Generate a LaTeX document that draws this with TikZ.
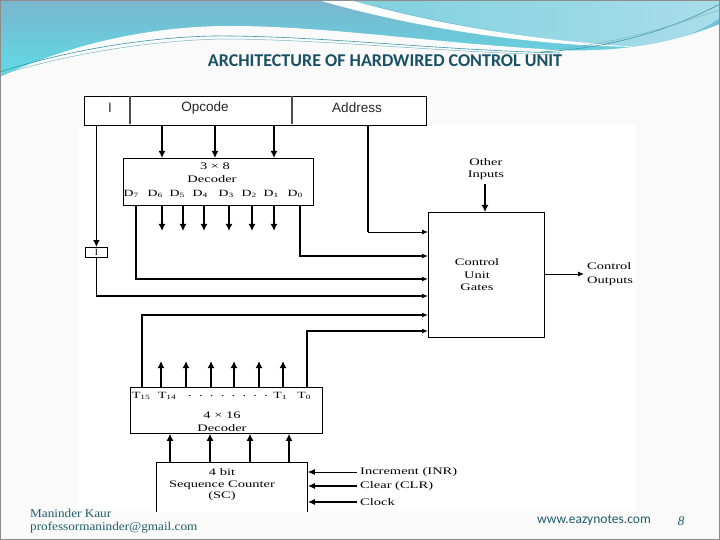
\documentclass[tikz,border=0pt]{standalone}
\usepackage{fontspec}
\setmainfont{Liberation Serif}
\newfontfamily\dgfont[FakeStretch=1.45]{Liberation Serif}
\newfontfamily\ftnfont[FakeStretch=1.1]{Liberation Serif}
\newfontfamily\regfont{Liberation Sans}
\newfontfamily\ttlfont{Carlito}
\newfontfamily\ftfont{Liberation Serif}
\usetikzlibrary{arrows.meta,calc}
\definecolor{slidebg}{RGB}{250,250,250}
\definecolor{hdrtop}{RGB}{122,182,205}
\definecolor{hdrbot}{RGB}{92,222,232}
\definecolor{hdrlightL}{RGB}{128,208,222}
\definecolor{hdrlightR}{RGB}{170,221,234}
\definecolor{titlecol}{RGB}{24,80,100}
\definecolor{footcol}{RGB}{30,92,108}
\definecolor{wavecol}{RGB}{60,150,170}
\newcommand{\sbs}[1]{\raisebox{-0.25ex}{\fontsize{6.5}{7}\selectfont #1}}
\tikzset{
  box/.style={draw, line width=0.8pt, inner sep=0pt, anchor=north west, fill=white},
  dglbl/.style={font=\dgfont\fontsize{10}{12}\selectfont, inner sep=0pt, align=center},
  reglbl/.style={font=\regfont\fontsize{13.5}{15}\selectfont, inner sep=0pt, text=black!85},
  bigarr/.style={-{Latex[length=7pt,width=7pt]}, line width=2.2pt},
  inarr/.style={-{Latex[length=6pt,width=5pt]}, line width=1.5pt},
  thinarr/.style={-{Latex[length=6pt,width=5pt]}, line width=0.9pt},
  wire/.style={line width=1.2pt},
  divider/.style={line width=2.8pt, black!70},
  foot/.style={anchor=west, inner sep=0pt, text=footcol},
}
\begin{document}
\begin{tikzpicture}[x=1pt,y=-1pt]
\useasboundingbox (0,0) rectangle (720,540);
% slide background
\fill[slidebg] (0,0) rectangle (720,540);
% header waves
\shade[top color=hdrtop, bottom color=hdrbot] (0,0) rectangle (720,82);
\shade[left color=hdrlightL, right color=hdrlightR]
  (350,0) .. controls (430,20) and (540,44) .. (640,46)
  .. controls (680,42) and (705,28) .. (720,18) -- (720,0) -- cycle;
\fill[white]
  (318,0) .. controls (400,24) and (520,46) .. (640,47)
  .. controls (520,40) and (420,20) .. (350,0) -- cycle;
\fill[slidebg] (0,92) -- (0,77) .. controls (70,44) and (150,26) .. (230,26)
  .. controls (330,26) and (440,44) .. (560,50)
  .. controls (640,53) and (690,36) .. (720,24) -- (720,92) -- cycle;
\draw[wavecol, line width=0.6pt] (0,72) .. controls (80,46) and (170,35) .. (230,36)
  .. controls (330,37) and (440,50) .. (560,53);
\draw[wavecol!70, line width=0.5pt] (0,75) .. controls (80,50) and (170,39) .. (230,39)
  .. controls (330,40) and (440,52) .. (560,55);
\draw[wavecol, line width=0.6pt] (540,52) .. controls (620,48) and (680,25) .. (720,4);
\draw[wavecol!70, line width=0.5pt] (545,50) .. controls (625,44) and (680,22) .. (720,10);
\draw[black!60, line width=1.2pt] (0,0.6) -- (720,0.6);
% title
\node[font=\ttlfont\bfseries\fontsize{18}{21}\selectfont, text=titlecol] (title) at (385,61) {ARCHITECTURE OF HARDWIRED CONTROL UNIT};
% diagram image area
\fill[white] (78,125) rectangle (636,511);
\begin{scope}
\clip (70,90) rectangle (640,511);
% instruction register
\node[box, minimum width=342pt, minimum height=29pt] (reg) at (84,96) {};
\draw[divider] (130,96.5) -- (130,124.5);
\draw[divider] (292,96.5) -- (292,124.5);
\node[reglbl] (tI) at (110,108) {I};
\node[reglbl] (topc) at (205,108) {Opcode};
\node[reglbl] (taddr) at (357,108) {Address};
% 3x8 decoder
\node[box, minimum width=190pt, minimum height=47pt] (dec3) at (123,158) {};
\node[dglbl] (d3t1) at (215,166) {3 × 8};
\node[dglbl] (d3t2) at (212,179) {Decoder};
\foreach \nm/\lx/\s in {a/131/7,b/155/6,c/177/5,d/200/4,e/226/3,f/249/2,g/271/1,h/295/0}
  \node[dglbl, font=\dgfont\fontsize{9.5}{11}\selectfont] (dl\nm) at (\lx,194) {D\sbs{\s}};
% opcode -> decoder
\foreach \nm/\x in {a/162,b/215,c/274} {
  \coordinate (op\nm) at (\x,125);
  \draw[bigarr] (op\nm) -- (op\nm |- dec3.north);
}
% decoder outputs
\foreach \nm/\x in {a/162,b/183,c/204,d/229,e/252,f/274} {
  \coordinate (do\nm) at (\x,205);
  \coordinate (de\nm) at (\x,231);
  \draw[bigarr] (do\nm) -- (de\nm);
}
% I flip-flop box
\node[box, minimum width=22pt, minimum height=10pt, fill=white] (ibox) at (85,247) {};
\node[dglbl, font=\ftfont\fontsize{9.5}{10}\selectfont] (ilbl) at (ibox.center) {I};
\draw[bigarr, line width=1.6pt] (reg.south -| ibox.north) -- (ibox.north);
% control unit gates
\node[box, minimum width=116pt, minimum height=125pt] (cu) at (428,212) {};
\node[dglbl, align=center, font=\dgfont\fontsize{10}{12.5}\selectfont] (cutxt) at (477,275) {Control\\Unit\\Gates};
\node[dglbl, font=\dgfont\fontsize{10}{12}\selectfont] (oin) at (486,169) {Other\\Inputs};
\coordinate (oinb) at (485,184);
\draw[bigarr, line width=2.6pt] (oinb) -- (oinb |- cu.north);
\coordinate (coutend) at (584,274);
\draw[thinarr] (cu.east |- coutend) -- (coutend);
\node[dglbl, anchor=west, align=left, font=\dgfont\fontsize{10}{14}\selectfont] (cout) at (587,274) {Control\\Outputs};
% inputs into control gates
\coordinate (addr) at (368,125);
\coordinate (cin1) at (428,232);
\coordinate (d0) at (300,205);
\coordinate (cin2) at (428,256);
\coordinate (d7) at (136,205);
\coordinate (cin3) at (428,279);
\coordinate (cin4) at (428,296);
\coordinate (cin5) at (428,315);
\coordinate (cin6) at (428,331);
\draw[wire, line width=1.4pt] (addr) -- (addr |- cin1);
\draw[thinarr] (addr |- cin1) -- (cin1);
\draw[inarr] (d0) |- (cin2);
\draw[inarr] (d7) |- (cin3);
\draw[inarr] (ibox.south) |- (cin4);
% 4x16 decoder
\node[box, minimum width=192pt, minimum height=46pt] (dec4) at (130,387) {};
\node[dglbl, font=\dgfont\fontsize{9.5}{11}\selectfont] (t15) at (141,396) {T\sbs{15}};
\node[dglbl, font=\dgfont\fontsize{9.5}{11}\selectfont] (t14) at (167,396) {T\sbs{14}};
\node[dglbl] (tdots) at (228,396) {.\ \ .\ \ .\ \ .\ \ .\ \ .\ \ .\ \ .};
\node[dglbl, font=\dgfont\fontsize{9.5}{11}\selectfont] (t1) at (280,396) {T\sbs{1}};
\node[dglbl, font=\dgfont\fontsize{9.5}{11}\selectfont] (t0) at (304,396) {T\sbs{0}};
\node[dglbl] (d4t1) at (222,415) {4 × 16};
\node[dglbl] (d4t2) at (222,428) {Decoder};
\coordinate (t15p) at (142,387);
\coordinate (t0p) at (307,387);
\draw[inarr] (t15p) |- (cin5);
\draw[inarr] (t0p) |- (cin6);
\foreach \nm/\x in {a/161,b/186,c/211,d/234,e/259,f/283} {
  \coordinate (tu\nm) at (\x,387);
  \coordinate (te\nm) at (\x,361);
  \draw[bigarr] (tu\nm) -- (te\nm);
}
% sequence counter
\node[box, minimum width=151pt, minimum height=70pt] (sc) at (156,462) {};
\node[dglbl, align=center, font=\dgfont\fontsize{10}{11.5}\selectfont] (sctxt) at (222,485) {4 bit\\Sequence Counter\\(SC)};
\foreach \nm/\x in {a/170,b/210,c/250,d/289} {
  \coordinate (su\nm) at (\x,462);
  \draw[bigarr] (su\nm) -- (su\nm |- dec4.south);
}
\coordinate (inr) at (357,472);
\coordinate (clr) at (357,486);
\coordinate (clk) at (357,502);
\draw[thinarr, -{Latex[length=7pt,width=6pt]}] (inr) -- (sc.east |- inr);
\draw[inarr, line width=2.2pt, -{Latex[length=7pt,width=6pt]}] (clr) -- (sc.east |- clr);
\draw[inarr, line width=2.2pt, -{Latex[length=7pt,width=6pt]}] (clk) -- (sc.east |- clk);
\node[dglbl, anchor=west] (linr) at (360,472) {Increment (INR)};
\node[dglbl, anchor=west] (lclr) at (360,486) {Clear (CLR)};
\node[dglbl, anchor=west] (lclk) at (360,502) {Clock};
\end{scope}
% footer
\node[foot, font=\ftnfont\fontsize{12}{13}\selectfont] (auth) at (30,513.5) {Maninder Kaur};
\node[foot, font=\ftnfont\fontsize{12}{13}\selectfont] (mail) at (30,527.5) {professormaninder@gmail.com};
\node[foot, font=\ttlfont\fontsize{13.5}{15}\selectfont] (web) at (537,520) {www.eazynotes.com};
\node[inner sep=0pt, text=footcol, font=\ftfont\itshape\fontsize{13}{15}\selectfont] (pg) at (681,521) {8};
% slide border
\draw[black!45, line width=1pt] (0.5,0.5) rectangle (719.5,539.5);
\end{tikzpicture}
\end{document}
